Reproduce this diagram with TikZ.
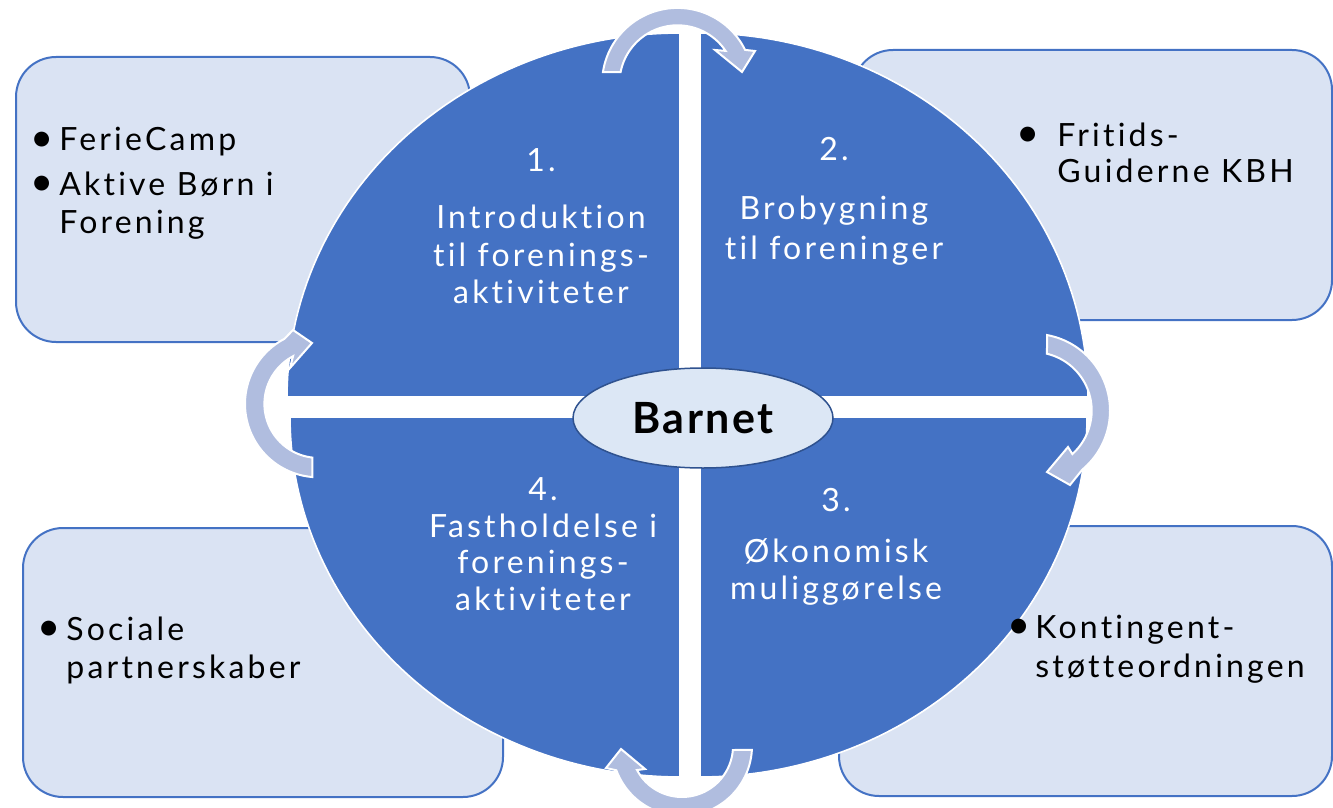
\documentclass[tikz,border=0pt]{standalone}
\usepackage{fontspec}
\setmainfont{Lato}[LetterSpace=10, Ligatures=NoCommon]
\newfontfamily\barnetfont{Lato}[LetterSpace=6, Ligatures=NoCommon]
\newfontfamily\bulletfont{Lato}
\usetikzlibrary{shapes.geometric}
\definecolor{qblue}{HTML}{4472C4}
\definecolor{boxfill}{HTML}{DAE3F3}
\definecolor{boxline}{HTML}{4472C4}
\definecolor{arrowfill}{HTML}{B0BDDF}
\definecolor{ellfill}{HTML}{DCE7F5}
\definecolor{ellline}{HTML}{2F528F}
\begin{document}
\begin{tikzpicture}[x=0.5pt,y=-0.5pt,
  quad/.style={fill=qblue, draw=white, line width=0.8pt},
  sidebox/.style={fill=boxfill, draw=boxline, line width=1pt, rounded corners=20pt},
  cyc/.style={fill=arrowfill, draw=white, line width=1pt, line join=miter},
  qtext/.style={text=white, font=\fontsize{16}{19}\selectfont, inner sep=0pt, anchor=base},
  btext/.style={text=black, font=\fontsize{16}{19}\selectfont, inner sep=0pt, anchor=base west},
  bul/.style={text=black, font=\bulletfont\fontsize{20}{20}\selectfont, inner sep=0pt, anchor=center},
]
\useasboundingbox (0,0) rectangle (1333,808);
% side boxes
\draw[sidebox] (16,57) rectangle (470,342);
\draw[sidebox] (853,50) rectangle (1332,320);
\draw[sidebox] (23,528) rectangle (503,797);
\draw[sidebox] (839,526) rectangle (1332,796);
% quadrants
\filldraw[quad] (680,397) -- plot[domain=180:270,samples=60] ({680+393*cos(\x)},{397+364*sin(\x)}) -- cycle;
\filldraw[quad] (700,397) -- plot[domain=270:360,samples=60] ({700+388*cos(\x)},{397+364*sin(\x)}) -- cycle;
\filldraw[quad] (700,417) -- plot[domain=0:90,samples=60] ({700+387*cos(\x)},{417+360*sin(\x)}) -- cycle;
\filldraw[quad] (680,417) -- plot[domain=90:180,samples=60] ({680+390*cos(\x)},{417+360*sin(\x)}) -- cycle;
% cycle arrows
\filldraw[cyc] plot[domain=188.6:333.7,samples=50] ({677.5+75.4*cos(\x)},{83.3+75.4*sin(\x)}) -- (755,51) -- (742,72) -- (715,50) -- plot[domain=326:191.2,samples=50] ({677.5+58*cos(\x)},{83.3+58*sin(\x)}) -- cycle;
\filldraw[cyc] plot[domain=280.4:410.3,samples=50] ({1033.2+76.8*cos(\x)},{410.6+76.8*sin(\x)}) -- (1070,485) -- (1047,472) -- (1068,447) -- plot[domain=408:283.6,samples=50] ({1033.2+58.5*cos(\x)},{410.6+58.5*sin(\x)}) -- cycle;
\filldraw[cyc] plot[domain=3.2:159.7,samples=50] ({682+70*cos(\x)},{746+70*sin(\x)}) -- (606,768) -- (621,749) -- (645,769) -- plot[domain=151.9:4.5,samples=50] ({682+51*cos(\x)},{746+51*sin(\x)}) -- cycle;
\filldraw[cyc] plot[domain=94.7:242.4,samples=50] ({318.4+73.4*cos(\x)},{403.9+73.4*sin(\x)}) -- (293,330) -- (312,343) -- (290,368) -- plot[domain=242:96.5,samples=50] ({318.4+54*cos(\x)},{403.9+54*sin(\x)}) -- cycle;
% centre
\node[ellipse, fill=ellfill, draw=ellline, line width=0.75pt, minimum width=130pt, minimum height=50pt, inner sep=0pt, font=\barnetfont\fontsize{21.5}{25}\selectfont\bfseries] (barnet) at (703,418) {Barnet};
% quadrant texts
\node[qtext] (q1n) at (541,171) {1.};
\node[qtext] (q1a) at (541,228) {Introduktion};
\node[qtext] (q1b) at (541,266) {til forenings-};
\node[qtext] (q1c) at (541,303) {aktiviteter};
\node[qtext] (q2n) at (834,161) {2.};
\node[qtext] (q2a) at (834,220) {Brobygning};
\node[qtext] (q2b) at (834,259) {til foreninger};
\node[qtext] (q3n) at (836,511) {3.};
\node[qtext] (q3a) at (836,562) {Økonomisk};
\node[qtext] (q3b) at (836,599) {muliggørelse};
\node[qtext] (q4n) at (543,500) {4.};
\node[qtext] (q4a) at (543,537) {Fastholdelse i};
\node[qtext] (q4b) at (543,573) {forenings-};
\node[qtext] (q4c) at (543,610) {aktiviteter};
% box texts
\node[bul] (b1) at (42,142) {\textbullet};
\node[btext] (t1a) at (59,150) {FerieCamp};
\node[bul] (b2) at (42,186) {\textbullet};
\node[btext] (t1b) at (59,195) {Aktive Børn i};
\node[btext] (t1c) at (59,233) {Forening};
\node[bul] (b3) at (1028,137) {\textbullet};
\node[btext] (t2a) at (1057,147) {Fritids-};
\node[btext] (t2b) at (1057,183) {Guiderne KBH};
\node[bul] (b4) at (49,631) {\textbullet};
\node[btext] (t4a) at (66,640) {Sociale};
\node[btext] (t4b) at (66,678) {partnerskaber};
\node[bul] (b5) at (1019,629) {\textbullet};
\node[btext] (t3a) at (1035,638) {Kontingent-};
\node[btext] (t3b) at (1035,677) {støtteordningen};
\end{tikzpicture}
\end{document}
